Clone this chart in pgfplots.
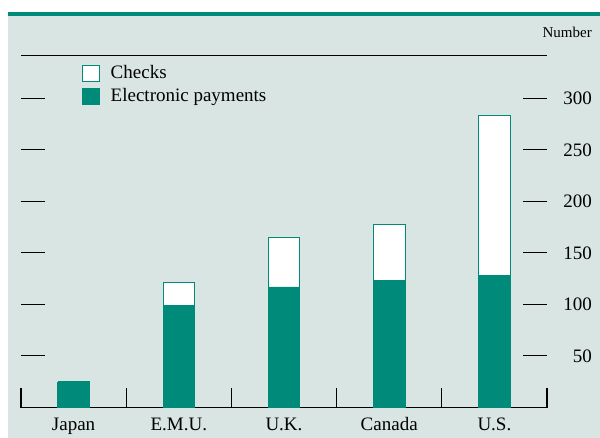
\documentclass[border=0pt]{standalone}
\usepackage{fontspec}
\setmainfont{Liberation Serif}
\usepackage{pgfplots}
\pgfplotsset{compat=1.18}
\definecolor{myteal}{RGB}{0,138,122}
\definecolor{bg}{RGB}{216,229,227}
\begin{document}
\fontsize{19pt}{23pt}\selectfont
\begin{tikzpicture}[x=1pt,y=1pt]
\fill[white] (0,0) rectangle (600,-438);
\fill[bg] (8,-16) rectangle (600,-438);
\fill[myteal] (8,-12) rectangle (600,-16);
\begin{axis}[
  at={(21pt,-407.5pt)}, anchor=south west,
  scale only axis, width=526pt, height=352pt,
  xmin=-0.5, xmax=4.5, ymin=0, ymax=341.5,
  axis line style={draw=none},
  ybar stacked, bar width=0.3,
  xtick={0,1,2,3,4},
  xticklabels={Japan,E.M.U.,U.K.,Canada,U.S.},
  major x tick style={draw=none},
  minor xtick={-0.5,0.5,1.5,2.5,3.5,4.5},
  minor x tick style={black, line width=1.2pt},
  minor tick length=19pt,
  xtick pos=bottom,
  tick align=inside,
  ytick={50,100,150,200,250,300},
  ytick pos=both,
  yticklabel pos=right,
  major tick length=24pt,
  y tick style={black, line width=1pt},
  yticklabel style={anchor=east, inner sep=0pt, xshift=45pt},
  xticklabel style={inner sep=0pt, yshift=-10pt},
  /pgf/number format/assume math mode=true,
  legend style={at={(axis description cs:0.116,0.976)}, anchor=north west, draw=none, fill=none, inner sep=0pt, row sep=4pt, column sep=9pt, nodes={inner sep=1.5pt}},
  legend cell align=left,
  legend image code/.code={\draw[#1] (0pt,-8pt) rectangle (17pt,8pt);},
]
\addplot[fill=myteal, draw=myteal, line width=0.8pt, forget plot] coordinates {(0,24) (1,99) (2,117) (3,123) (4,128.5)};
\addplot[fill=white, draw=myteal, line width=0.6pt, forget plot] coordinates {(0,1) (1,22) (2,48) (3,55) (4,154.5)};
\addlegendimage{fill=white, draw=myteal, line width=1pt}
\addlegendentry{Checks}
\addlegendimage{fill=myteal, draw=myteal, line width=1pt}
\addlegendentry{Electronic payments}
\draw[black, line width=1.4pt] (axis cs:-0.5,0) -- (axis cs:4.5,0);
\draw[black, line width=1.2pt] (axis cs:-0.5,341.5) -- (axis cs:4.5,341.5);
\end{axis}
\node[anchor=base east, font=\fontsize{15pt}{18pt}\selectfont, inner sep=0pt] at (592pt,-38pt) {Number};
\pgfresetboundingbox
\path (0,0) rectangle (600,-438);
\end{tikzpicture}
\end{document}
